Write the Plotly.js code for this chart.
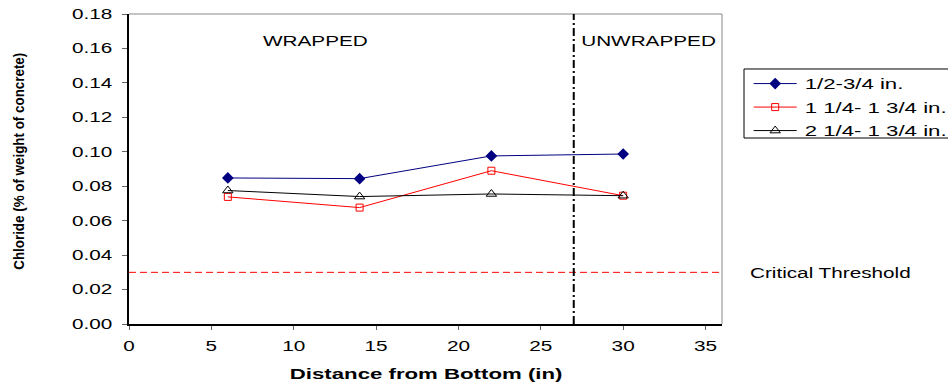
<!DOCTYPE html>
<html><head><meta charset="utf-8">
<script src="https://cdn.plot.ly/plotly-3.0.1.min.js"></script>
<style>body{margin:0;background:#fff}#c{width:948px;height:383px}</style>
</head><body><div id="c"></div>
<script>
const distance = [6, 14, 22, 30];
const seriesNames = ["1/2-3/4 in.", "1 1/4- 1 3/4 in.", "2 1/4- 1 3/4 in."];
const s1 = [0.0848, 0.0844, 0.0976, 0.0987];
const s2 = [0.0738, 0.0676, 0.0890, 0.0745];
const s3 = [0.0775, 0.0740, 0.0755, 0.0745];
const threshold = 0.03;
const boundaryX = 27;
const xRange = [0, 36];
const yRange = [0, 0.18];
const yTitle = "Chloride (% of weight of concrete)";
const xTitle = "Distance from Bottom (in)";

const F = "'Liberation Sans', Arial, sans-serif";
const traces = [
  {x: distance, y: s1, name: seriesNames[0], mode: "lines+markers", legendgroup: "a",
   line: {color: "#000080", width: 1}, marker: {symbol: "diamond", size: 9, color: "#000080"}},
  {x: distance, y: s2, name: seriesNames[1], mode: "lines+markers", legendgroup: "b",
   line: {color: "#ff0000", width: 1}, marker: {symbol: "square-open", size: 7, color: "#ff0000", line: {width: 1}}},
  {x: distance, y: s3, name: seriesNames[2], mode: "lines+markers", legendgroup: "c",
   line: {color: "#000000", width: 1}, marker: {symbol: "triangle-up-open", size: 9, color: "#000000", line: {width: 1}}}
];
const layout = {
  width: 948, height: 383,
  margin: {l: 129, r: 226, t: 14, b: 59},
  paper_bgcolor: "#fff", plot_bgcolor: "#fff",
  font: {family: F, size: 14, color: "#000"},
  showlegend: true,
  legend: {x: 1.045, y: 0.828, xanchor: "left", yanchor: "top", borderwidth: 0, bgcolor: "rgba(0,0,0,0)",
           font: {family: F, size: 15}, tracegroupgap: 1, itemwidth: 40},
  xaxis: {range: xRange, dtick: 5, tick0: 0, showgrid: false, zeroline: false,
          showline: true, linecolor: "#000", linewidth: 2, ticks: "outside", ticklen: 4, tickcolor: "#666",
          ticklabelstandoff: 4, tickfont: {family: F, size: 14}},
  yaxis: {range: yRange, dtick: 0.02, tickformat: ".2f", showgrid: false, zeroline: false,
          showline: true, linecolor: "#000", linewidth: 2, ticks: "outside", ticklen: 5, tickcolor: "#666",
          ticklabelstandoff: 7, tickfont: {family: F, size: 14}},
  shapes: [
    {type: "line", xref: "paper", yref: "paper", x0: 0, x1: 1, y0: 1, y1: 1, line: {color: "#888", width: 1}},
    {type: "line", xref: "paper", yref: "paper", x0: 1, x1: 1, y0: 0, y1: 1, line: {color: "#888", width: 1}},
    {type: "line", xref: "paper", yref: "y", x0: 0, x1: 1, y0: threshold, y1: threshold, line: {color: "#ff0000", width: 1, dash: "7px,4px"}},
    {type: "line", xref: "x", yref: "paper", x0: boundaryX, x1: boundaryX, y0: 0, y1: 1, line: {color: "#000", width: 2, dash: "8px,3px,2px,3px"}},
    {type: "rect", xref: "paper", yref: "paper", x0: 1.0371, x1: 1.6, y0: 0.600, y1: 0.8226, line: {color: "#000", width: 1}}
  ],
  annotations: [
    {text: "WRAPPED", x: 11.3, y: 0.1645, xref: "x", yref: "y", showarrow: false, font: {family: F, size: 14}},
    {text: "UNWRAPPED", x: 31.55, y: 0.1645, xref: "x", yref: "y", showarrow: false, font: {family: F, size: 14}},
    {text: "Critical Threshold", x: 1.1838, y: threshold, xref: "paper", yref: "y", xanchor: "center", yshift: -1, showarrow: false, font: {family: F, size: 14}},
    {text: xTitle, x: 0.5, y: -0.161, xref: "paper", yref: "paper", yanchor: "middle", showarrow: false, font: {family: F, size: 15, weight: "bold"}},
    {text: yTitle, x: -0.1855, y: 0.526, xref: "paper", yref: "paper", xanchor: "center", yanchor: "middle", textangle: -90, showarrow: false, font: {family: F, size: 15, weight: "bold"}}
  ]
};
Plotly.newPlot("c", traces, layout, {displayModeBar: false, staticPlot: true}).then(function (gd) {
  // the reference's lettering is horizontally stretched; widen glyphs to match
  gd.querySelectorAll("svg text").forEach(function (el) {
    const len = el.getComputedTextLength();
    if (!len) return;
    if (el.textContent === yTitle) {
      el.setAttribute("textLength", 217);
      el.setAttribute("lengthAdjust", "spacingAndGlyphs");
      return;
    }
    el.setAttribute("textLength", (len * 1.48).toFixed(1));
    el.setAttribute("lengthAdjust", "spacingAndGlyphs");
  });
  // legend styling: longer sample lines, text further right, no clipping
  gd.querySelectorAll(".legend [clip-path]").forEach(function (n) { n.removeAttribute("clip-path"); });
  gd.querySelectorAll(".legend .legendlines path").forEach(function (p) { p.setAttribute("d", "M5,0h43"); });
  gd.querySelectorAll(".legend .legendpoints path").forEach(function (p) { p.setAttribute("transform", "translate(26.5,0)"); });
  gd.querySelectorAll(".legend text.legendtext").forEach(function (t) { t.setAttribute("x", 56); });
});
</script></body></html>
